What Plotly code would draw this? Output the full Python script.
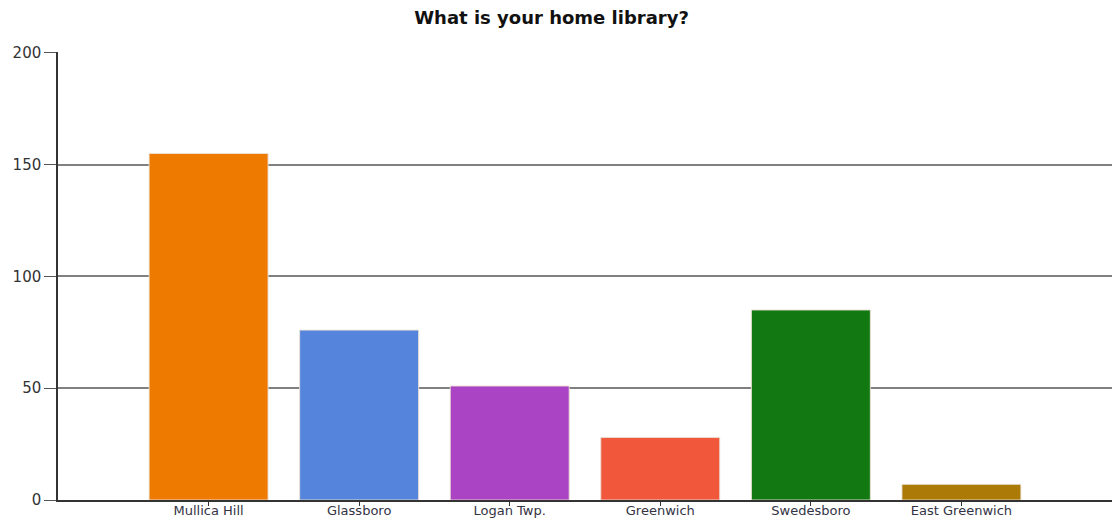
import plotly.graph_objects as go

categories = ["Mullica Hill", "Glassboro", "Logan Twp.", "Greenwich", "Swedesboro", "East Greenwich"]
counts = [155, 76, 51, 28, 85, 7]
bar_colors = ["#EE7B00", "#5484DC", "#AA44C4", "#F0573B", "#127812", "#AC7A06"]
y_ticks = [0, 50, 100, 150, 200]

fig = go.Figure(
    go.Bar(
        x=categories,
        y=counts,
        marker=dict(color=bar_colors, line=dict(color="rgba(235,225,215,0.9)", width=1)),
        width=0.79,
    )
)

font_family = "DejaVu Sans, Verdana, sans-serif"

fig.update_layout(
    width=1112,
    height=520,
    margin=dict(l=58, r=0, t=52, b=20, autoexpand=False),
    paper_bgcolor="white",
    plot_bgcolor="white",
    showlegend=False,
    title=dict(
        text="<b>What is your home library?</b>",
        x=0.496,
        xanchor="center",
        y=0.966,
        yanchor="middle",
        yref="container",
        automargin=False,
        font=dict(family=font_family, size=18, color="#111"),
    ),
    xaxis=dict(
        range=[-1, 6],
        showgrid=False,
        showline=True,
        linecolor="#333",
        linewidth=1.5,
        ticks="outside",
        ticklen=4,
        tickcolor="#333",
        ticklabelstandoff=-6,
        tickfont=dict(family=font_family, size=13, color="#333344"),
        zeroline=False,
        automargin=False,
        fixedrange=True,
    ),
    yaxis=dict(
        range=[0, 200.4],
        tickvals=y_ticks,
        showgrid=True,
        gridcolor="#808080",
        gridwidth=1.5,
        showline=True,
        linecolor="#333",
        linewidth=1.5,
        ticks="outside",
        ticklen=12,
        tickcolor="#555",
        tickfont=dict(family=font_family, size=15, color="#333"),
        zeroline=False,
        automargin=False,
        fixedrange=True,
    ),
)

page_css = (
    "document.documentElement.style.margin='0';"
    "document.body.style.margin='0';"
    "document.body.style.overflow='hidden';"
)
fig.write_html("out.html", post_script=page_css, config={"displayModeBar": False})
